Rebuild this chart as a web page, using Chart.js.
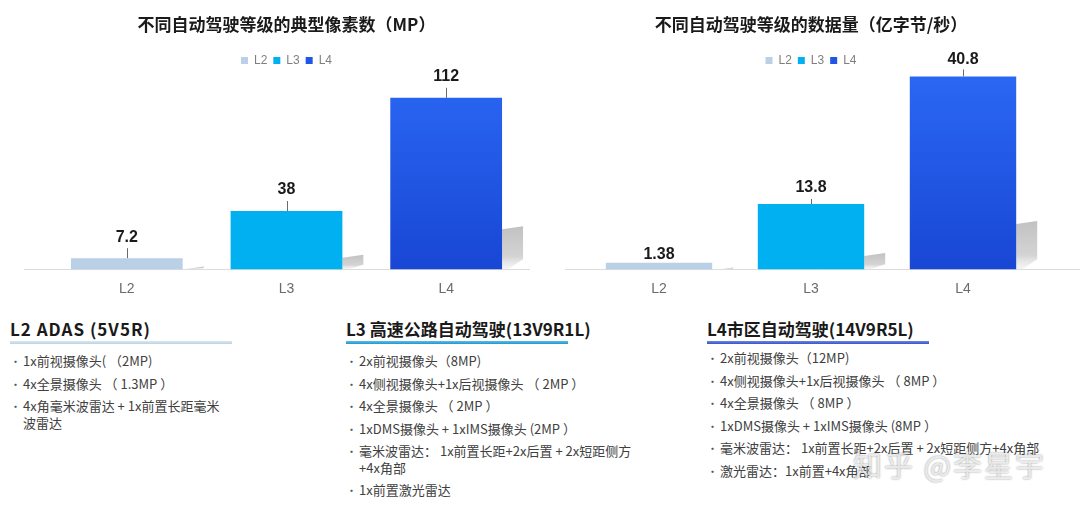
<!DOCTYPE html>
<html lang="zh-CN">
<head>
<meta charset="utf-8">
<title>不同自动驾驶等级</title>
<script src="https://cdn.jsdelivr.net/npm/chart.js@4.4.1/dist/chart.umd.min.js"></script>
<style>
html, body { margin: 0; padding: 0; background: #fff; }
body {
    width: 1080px; height: 506px; position: relative; overflow: hidden;
    font-family: "Noto Sans CJK SC", "Liberation Sans", sans-serif;
}
.chart-box { position: absolute; top: 0; width: 540px; height: 310px; }
#boxPixels { left: 0; }
#boxData { left: 540px; }

/* --- phần mô tả bên dưới --- */
.col { position: absolute; top: 317px; }
.col h3 {
    margin: 0; font-size: 17px; font-weight: 700; color: #1a1a1a;
    line-height: 24px; white-space: nowrap;
}
.col .rule { width: 222px; height: 3px; margin-top: 0; }
.col ul { list-style: none; margin: 9px 0 0 0; padding: 0; }
.col li {
    position: relative; padding-left: 13px; margin-bottom: 6px;
    font-size: 13px; line-height: 16.5px; color: #404040; white-space: nowrap;
}
.col li::before {
    content: "•"; position: absolute; left: 0; top: 0; font-size: 11px; color: #555;
}
#colL2 { left: 10px; }
#colL3 { left: 346px; }
#colL4 { left: 707px; }
#colL2 h3 { letter-spacing: 1px; }
#colL2 .rule { background: linear-gradient(#dbe8f0, #bcd3e2); }
#colL3 .rule { background: linear-gradient(#5bbde6, #1f98cf); }
#colL4 .rule { background: linear-gradient(#6f86e0, #3555cc); }
#colL4 ul { margin-top: 6px; }

.mark {
    position: absolute; left: 853px; top: 443px; font-size: 29px; letter-spacing: 2px;
    color: rgba(255, 255, 255, 0.75); text-shadow: 0 0 2px rgba(0, 0, 0, 0.45);
}
</style>
</head>
<body>

<div class="chart-box" id="boxPixels"><canvas id="pixelChart" width="540" height="310"></canvas></div>
<div class="chart-box" id="boxData"><canvas id="dataChart" width="540" height="310"></canvas></div>

<div class="col" id="colL2">
    <h3>L2 ADAS (5V5R)</h3>
    <div class="rule"></div>
    <ul>
        <li>1x前视摄像头( （2MP)</li>
        <li>4x全景摄像头 （ 1.3MP ）</li>
        <li>4x角毫米波雷达 + 1x前置长距毫米<br>波雷达</li>
    </ul>
</div>

<div class="col" id="colL3">
    <h3>L3 高速公路自动驾驶(13V9R1L)</h3>
    <div class="rule"></div>
    <ul>
        <li>2x前视摄像头（8MP)</li>
        <li>4x侧视摄像头+1x后视摄像头 （ 2MP ）</li>
        <li>4x全景摄像头 （ 2MP ）</li>
        <li>1xDMS摄像头 + 1xIMS摄像头 (2MP ）</li>
        <li>毫米波雷达： 1x前置长距+2x后置 + 2x短距侧方<br>+4x角部</li>
        <li>1x前置激光雷达</li>
    </ul>
</div>

<div class="col" id="colL4">
    <h3>L4市区自动驾驶(14V9R5L)</h3>
    <div class="rule"></div>
    <ul>
        <li>2x前视摄像头（12MP)</li>
        <li>4x侧视摄像头+1x后视摄像头 （ 8MP ）</li>
        <li>4x全景摄像头 （ 8MP ）</li>
        <li>1xDMS摄像头 + 1xIMS摄像头 (8MP ）</li>
        <li>毫米波雷达： 1x前置长距+2x后置 + 2x短距侧方+4x角部</li>
        <li>激光雷达：1x前置+4x角部</li>
    </ul>
</div>

<div class="mark">知乎 @李星宇</div>

<script>
// --- Dữ liệu ---
const levels = ['L2', 'L3', 'L4'];
const pixelValues = [7.2, 38, 112];      // MP
const dataValues = [1.38, 13.8, 40.8];   // 亿字节/秒
const pixelTitle = '不同自动驾驶等级的典型像素数（MP）';
const dataTitle = '不同自动驾驶等级的数据量（亿字节/秒）';

const levelColors = ['#b9d0e6', '#00b0f0', '#1f56e6'];
const cjkFont = '"Noto Sans CJK SC", "Liberation Sans", sans-serif';

Chart.defaults.font.family = '"Liberation Sans", "Noto Sans CJK SC", sans-serif';

// màu cột, L4 có gradient
function barFill(context) {
    const i = context.dataIndex;
    const area = context.chart.chartArea;
    if (i !== 2 || !area) return levelColors[i];
    const g = context.chart.ctx.createLinearGradient(0, area.top, 0, area.bottom);
    g.addColorStop(0, '#2a67f3');
    g.addColorStop(1, '#1847d4');
    return g;
}

// đường nền, bóng đổ và nhãn giá trị
const barDecor = {
    id: 'barDecor',
    beforeDatasetsDraw(chart, args, opts) {
        const ctx = chart.ctx;
        const area = chart.chartArea;
        const base = chart.scales.y.getPixelForValue(0);
        ctx.save();
        ctx.strokeStyle = '#dcdcdc';
        ctx.lineWidth = 1;
        ctx.beginPath();
        ctx.moveTo(area.left - opts.extLeft, Math.round(base) + 0.5);
        ctx.lineTo(area.right + opts.extRight, Math.round(base) + 0.5);
        ctx.stroke();

        chart.getDatasetMeta(0).data.forEach(bar => {
            const h = base - bar.y;
            const r = bar.x + bar.width / 2;
            const sh = h * 0.25;
            const sw = 21;
            const g = ctx.createLinearGradient(0, base - sh, 0, base);
            g.addColorStop(0, 'rgba(190,190,190,0.95)');
            g.addColorStop(0.7, 'rgba(200,200,200,0.8)');
            g.addColorStop(1, 'rgba(230,230,230,0.4)');
            ctx.fillStyle = g;
            ctx.beginPath();
            ctx.moveTo(r, base);
            ctx.lineTo(r, base - sh + 3);
            ctx.lineTo(r + sw, base - sh);
            ctx.lineTo(r + sw, base - Math.min(10, sh * 0.3));
            ctx.lineTo(r + 6, base);
            ctx.closePath();
            ctx.fill();
        });
        ctx.restore();
    },
    afterDatasetsDraw(chart, args, opts) {
        const ctx = chart.ctx;
        const vals = chart.data.datasets[0].data;
        ctx.save();
        chart.getDatasetMeta(0).data.forEach((bar, i) => {
            const lead = opts.leads[i];
            if (lead > 0) {
                ctx.strokeStyle = '#6a6a6a';
                ctx.lineWidth = 1;
                ctx.beginPath();
                ctx.moveTo(Math.round(bar.x) + 0.5, bar.y);
                ctx.lineTo(Math.round(bar.x) + 0.5, bar.y - lead);
                ctx.stroke();
            }
            ctx.fillStyle = '#1a1a1a';
            ctx.font = 'bold 16px "Liberation Sans", sans-serif';
            ctx.textAlign = 'center';
            ctx.textBaseline = 'middle';
            ctx.fillText(String(vals[i]), bar.x, bar.y - opts.gaps[i]);
        });
        ctx.restore();
    }
};

function makeBarChart(canvasId, title, values, yMax, pad, decor) {
    return new Chart(document.getElementById(canvasId), {
        type: 'bar',
        data: {
            labels: levels,
            datasets: [{
                data: values,
                backgroundColor: barFill,
                barPercentage: 0.70,
                categoryPercentage: 1,
                clip: false
            }]
        },
        options: {
            responsive: false,
            animation: false,
            layout: { padding: pad },
            scales: {
                x: {
                    grid: { display: false, drawTicks: false },
                    border: { display: false },
                    ticks: { color: '#6b6b6b', padding: 12, font: { size: 14 } }
                },
                y: { display: false, min: 0, max: yMax }
            },
            plugins: {
                title: {
                    display: true,
                    text: title,
                    color: '#1a1a1a',
                    font: { size: 17, weight: 'bold', family: cjkFont },
                    padding: { top: 14, bottom: 14 }
                },
                legend: {
                    display: true,
                    labels: {
                        boxWidth: 7,
                        boxHeight: 7,
                        padding: 6,
                        color: '#7f7f7f',
                        font: { size: 12 },
                        generateLabels: () => levels.map((lv, i) => ({
                            text: lv,
                            fillStyle: levelColors[i],
                            strokeStyle: levelColors[i],
                            lineWidth: 0,
                            hidden: false,
                            index: i,
                            fontColor: '#7f7f7f'
                        }))
                    }
                },
                tooltip: { enabled: false },
                barDecor: decor
            }
        },
        plugins: [barDecor]
    });
}

makeBarChart('pixelChart', pixelTitle, pixelValues, 126,
    { left: 47, right: 14, top: 0, bottom: 0 },
    { extLeft: 23, extRight: 4, gaps: [21, 21, 21], leads: [10, 10, 10] });

makeBarChart('dataChart', dataTitle, dataValues, 40.8,
    { left: 43, right: 41, top: 0, bottom: 0 },
    { extLeft: 18, extRight: 41, gaps: [8, 16.5, 16.5], leads: [0, 5, 7] });
</script>
</body>
</html>
